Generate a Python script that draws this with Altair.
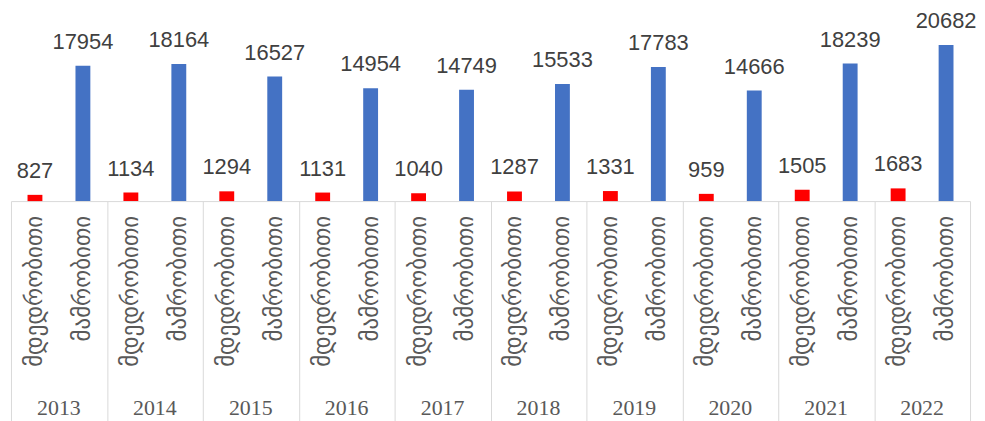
import altair as alt
import pandas as pd

years = ["2013", "2014", "2015", "2016", "2017", "2018", "2019", "2020", "2021", "2022"]
categories = ["მდედრობითი", "მამრობითი"]
female = [827, 1134, 1294, 1131, 1040, 1287, 1331, 959, 1505, 1683]
male = [17954, 18164, 16527, 14954, 14749, 15533, 17783, 14666, 18239, 20682]
colors = ["#FF0000", "#4472C4"]

rows = []
for i, y in enumerate(years):
    rows.append({"year": y, "cat": categories[0], "value": female[i]})
    rows.append({"year": y, "cat": categories[1], "value": male[i]})
df = pd.DataFrame(rows)
ydf = pd.DataFrame({"year": years})

W = 965
H = 191

xs = alt.X("year:N", sort=years,
           scale=alt.Scale(paddingInner=0, paddingOuter=0),
           axis=alt.Axis(title=None, labels=False, tickBand="extent", tickSize=222,
                         tickColor="#d9d9d9", domainColor="#d9d9d9", grid=False))
xo = alt.XOffset("cat:N", sort=categories,
                 scale=alt.Scale(paddingInner=0.69, paddingOuter=0.345))
ys = alt.Y("value:Q", scale=alt.Scale(domain=[0, 25160]), axis=None)

base = alt.Chart(df)

bars = base.mark_bar().encode(
    x=xs, xOffset=xo, y=ys,
    color=alt.Color("cat:N", sort=categories,
                    scale=alt.Scale(domain=categories, range=colors), legend=None),
)

vals = base.mark_text(font="Liberation Sans", fontSize=22, color="#404040",
                      baseline="alphabetic", dy=-17).encode(
    x=xs, xOffset=xo, y=ys, text=alt.Text("value:Q", format="d"))

cats = base.mark_text(font="DejaVu Sans", fontSize=23, color="#595959",
                      angle=270, align="right", baseline="middle").encode(
    x=xs, xOffset=xo, y=alt.value(H + 15), text="cat:N")

yrs = alt.Chart(ydf).mark_text(font="Liberation Serif", fontSize=22, color="#595959",
                               baseline="middle").encode(
    x=xs, y=alt.value(H + 208), text="year:N")

chart = alt.layer(bars, vals, cats, yrs).properties(
    width=W, height=H,
    padding={"left": 2, "top": 0, "right": 0, "bottom": 0},
).configure_view(stroke=None)

chart.save("out.html", embed_options={"renderer": "svg", "actions": False})
